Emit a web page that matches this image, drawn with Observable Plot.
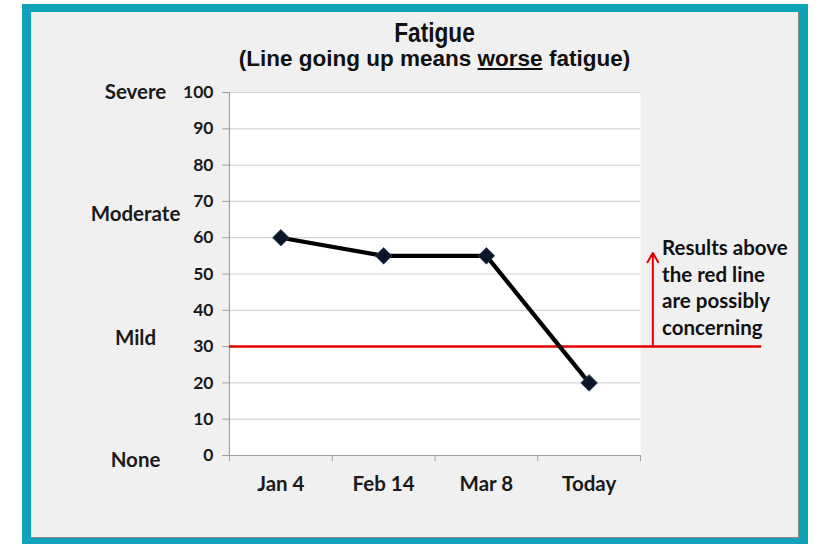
<!DOCTYPE html>
<html>
<head>
<meta charset="utf-8">
<script src="https://cdn.jsdelivr.net/npm/d3@7"></script>
<script src="https://cdn.jsdelivr.net/npm/@observablehq/plot@0.6"></script>
<style>
  html, body { margin: 0; padding: 0; background: #ffffff; }
  body { width: 818px; height: 545px; position: relative; overflow: hidden; }
  #frame { position: absolute; left: 22px; top: 4px; width: 786px; height: 540px; box-sizing: border-box;
           border-style: solid; border-color: #10a2b8; border-width: 8px 9px 6px 9px; background: #f0f0f0; }
  #inner { position: absolute; left: 0; top: 0; right: 0; bottom: 0; border-right: 1px solid #8a8a8a; border-bottom: 1px solid #8a8a8a; }
  #title { position: absolute; left: 229px; width: 411px; top: 19px; text-align: center;
           font-family: "Liberation Sans", Arial, sans-serif; font-weight: bold; color: #111; }
  #title .t { font-size: 27px; line-height: 28px; transform: scaleX(0.84); }
  #title .s { font-size: 22.5px; line-height: 24px; white-space: nowrap; margin-left: -100px; margin-right: -100px; }
  #chart { position: absolute; left: 0; top: 0; }
</style>
</head>
<body>
<div id="frame"><div id="inner"></div></div>
<div id="title">
  <div class="t">Fatigue</div>
  <div class="s">(Line going up means <u>worse</u> fatigue)</div>
</div>
<div id="chart"></div>
<script>
const categories = ["Jan 4", "Feb 14", "Mar 8", "Today"];
const fatigue = [60, 55, 55, 20];
const yTicks = [0, 10, 20, 30, 40, 50, 60, 70, 80, 90, 100];
const severityLabels = ["Severe", "Moderate", "Mild", "None"];
const severityLevels = [100, 66.4, 32.2, -1.4];
const threshold = 30;
const noteText = "Results above\nthe red line\nare possibly\nconcerning";

const data = categories.map((c, i) => ({cat: c, pos: i + 0.5, value: fatigue[i]}));
const boundaries = d3.range(0, categories.length + 1);
const centers = categories.map((c, i) => i + 0.5);
const sev = severityLabels.map((s, i) => ({label: s, level: severityLevels[i]}));

const chart = Plot.plot({
  width: 818,
  height: 545,
  marginLeft: 229,
  marginRight: 178,
  marginTop: 92,
  marginBottom: 90,
  style: {fontFamily: "Lato, 'Open Sans', sans-serif", fontWeight: "bold", fontSize: "16px", color: "#1a1a1a", background: "transparent", overflow: "visible"},
  x: {domain: [0, categories.length], axis: null},
  y: {domain: [0, 100], axis: null},
  marks: [
    Plot.frame({fill: "white", stroke: "none"}),
    Plot.gridY(yTicks.filter(d => d > 0), {stroke: "#d4d4d4", strokeOpacity: 1, strokeWidth: 1.2}),
    Plot.ruleX([0], {stroke: "#a0a0a0", strokeWidth: 1.2}),
    Plot.ruleY([0], {stroke: "#a0a0a0", strokeWidth: 1.2}),
    Plot.axisY({ticks: yTicks, tickSize: 7, tickPadding: 9, stroke: "#a0a0a0", fill: "#1a1a1a", fontSize: 17.5, label: null, tickFormat: d => String(d)}),
    Plot.axisX({ticks: boundaries, tickSize: 6, tickFormat: () => "", stroke: "#a0a0a0", label: null}),
    Plot.axisX({ticks: centers, tickSize: 0, tickPadding: 21, fontSize: 20.5, fill: "#1a1a1a", label: null,
                tickFormat: d => categories[Math.floor(d)]}),
    Plot.ruleY([threshold], {x1: 0, x2: 5.18, stroke: "#e30000", strokeWidth: 2.5, clip: false}),
    Plot.arrow([threshold], {x1: 4.12, x2: 4.12, y1: d => d, y2: 55.8, stroke: "#e30000", strokeWidth: 2, headLength: 8, clip: false}),
    Plot.text([noteText], {x: 4.21, y: 46.6, text: d => d, textAnchor: "start", lineAnchor: "middle", lineHeight: 1.3, fontSize: 20.5, fill: "#111", clip: false}),
    Plot.line(data, {x: "pos", y: "value", stroke: "#000", strokeWidth: 4.2, strokeLinejoin: "round"}),
    Plot.dot(data, {x: "pos", y: "value", symbol: "diamond2", r: 7.5, fill: "#0c1628", stroke: "#2d4c6e", strokeWidth: 0.8}),
    Plot.text(sev, {y: "level", text: "label", frameAnchor: "left", dx: -94, textAnchor: "middle", fontSize: 20.5, fill: "#1a1a1a"})
  ]
});
document.getElementById("chart").appendChild(chart);
</script>
</body>
</html>
